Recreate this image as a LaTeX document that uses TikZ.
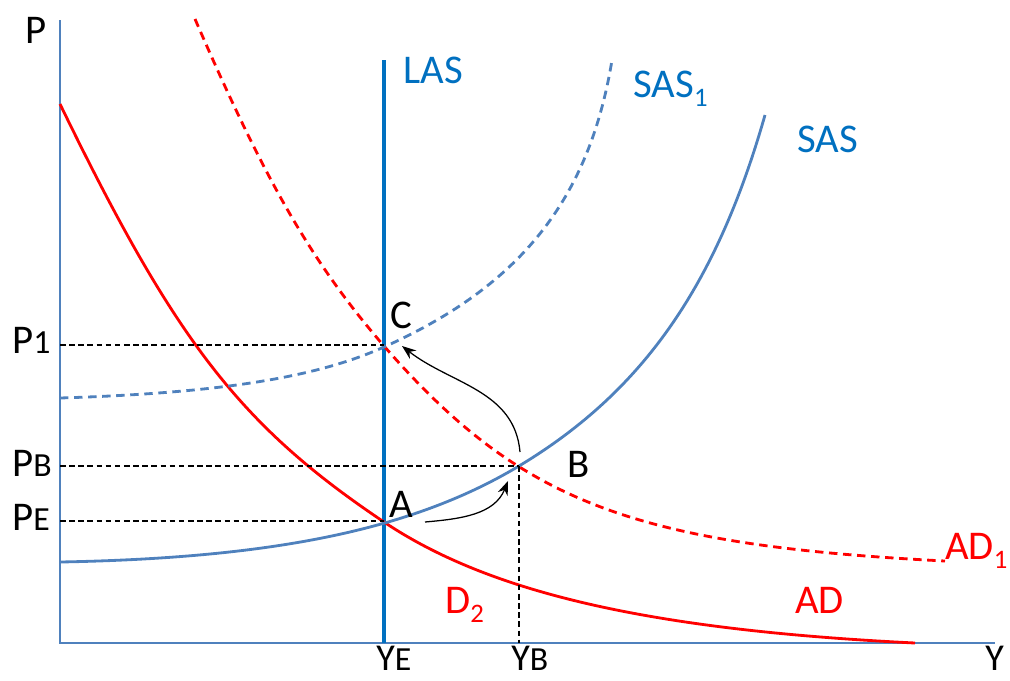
\documentclass[tikz,border=0pt]{standalone}
\usepackage{fontspec}
\setmainfont{Carlito}
\usetikzlibrary{arrows.meta}
\definecolor{axisblue}{HTML}{4F81BD}
\definecolor{lasblue}{HTML}{0070C0}
\newcommand{\lowsub}[1]{{\fontsize{24}{24}\selectfont #1}}
\newcommand{\dnsub}[1]{\raisebox{-7pt}{\fontsize{19}{19}\selectfont #1}}
\tikzset{
    lbl/.style={anchor=base west, inner sep=0pt, font=\fontsize{29}{31}\selectfont},
    axlbl/.style={lbl, font=\fontsize{27}{29}\selectfont},
    guide/.style={black, line width=0.9pt, dash pattern=on 4pt off 2.5pt},
    move/.style={black, line width=0.9pt, -{Stealth[length=10pt, width=7.5pt]}},
    curve/.style={line width=2pt},
    shifted/.style={line width=2pt, dash pattern=on 6pt off 4pt},
}
\begin{document}
\begin{tikzpicture}[x=0.025cm, y=-0.025cm]
    \useasboundingbox (0,0) rectangle (1010,680);
    % axes
    \coordinate (top) at (60,20);
    \coordinate (origin) at (60,643);
    \coordinate (right) at (995,643);
    \draw[axisblue, line width=2pt] (top) -- (origin) -- (right);
    \node[lbl] (P) at (25,43) {P};
    \node[axlbl] (Y) at (985,670) {Y};
    % long run supply
    \coordinate (lastop) at (384,60);
    \coordinate (lasbot) at (384,643);
    \draw[lasblue, line width=2.8pt] (lastop) -- (lasbot);
    \node[lbl, lasblue] (LAS) at (403,83) {LAS};
    % demand curves
    \draw[red, curve] (60,104) .. controls (176,343) and (241,426) .. (384,522)
        .. controls (490,593) and (650,630) .. (915,643);
    \draw[red, shifted] (195,19) .. controls (266,183) and (313,264) .. (384,346)
        .. controls (520,502) and (632,545) .. (945,561);
    \node[lbl, red] (AD) at (795,613) {AD};
    \node[lbl, red] (AD1) at (945,559) {AD\dnsub{1}};
    \node[lbl, red] (D2) at (445,613) {D\dnsub{2}};
    % short run supply curves
    \draw[axisblue, curve] (60,562) .. controls (276,558) and (414,529) .. (519,466)
        .. controls (642,392) and (716,287) .. (765,115);
    \draw[axisblue, shifted] (60,398) .. controls (218,393) and (315,378) .. (384,347)
        .. controls (520,286) and (589,200) .. (612,60);
    \node[lbl, lasblue] (SAS) at (797,152) {SAS};
    \node[lbl, lasblue] (SAS1) at (633,97) {SAS\dnsub{1}};
    % equilibria
    \coordinate (ptA) at (384,521);
    \coordinate (ptB) at (519,466);
    \coordinate (ptC) at (384,345);
    \coordinate (yB) at (519,643);
    \node[lbl] (A) at (389,517) {A};
    \node[lbl] (B) at (567,477) {B};
    \node[lbl] (C) at (390,328) {C};
    \coordinate (pE) at (60,521);
    \coordinate (pB) at (60,466);
    \coordinate (p1) at (60,345);
    \draw[guide] (p1) -- (ptC);
    \draw[guide] (pB) -- (ptB);
    \draw[guide] (pE) -- (ptA);
    \draw[guide] (ptB) -- (yB);
    \node[lbl] (P1) at (12,353) {P\lowsub{1}};
    \node[lbl] (PB) at (12,476) {P\lowsub{B}};
    \node[lbl] (PE) at (12,530) {P\lowsub{E}};
    \node[axlbl] (YE) at (376,670) {Y\lowsub{E}};
    \node[axlbl] (YB) at (511,670) {Y\lowsub{B}};
    % adjustment path
    \coordinate (fromA) at (425,522);
    \coordinate (toB) at (508,481);
    \coordinate (fromB) at (520,452);
    \coordinate (toC) at (402,346);
    \draw[move] (fromA) to[out=5, in=-112] (toB);
    \draw[move] (fromB) to[out=95, in=-38] (toC);
\end{tikzpicture}
\end{document}
